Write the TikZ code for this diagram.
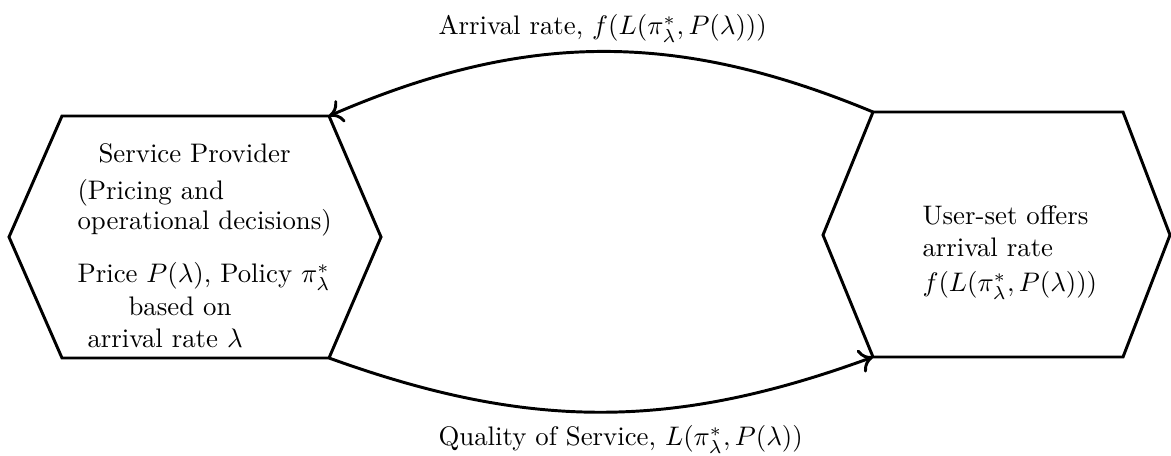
\documentclass[tikz,border=0pt]{standalone}
\usetikzlibrary{arrows.meta}
\begin{document}
\begin{tikzpicture}[x=0.373pt, y=-0.373pt,
  hexline/.style={line width=1.1pt, line join=miter},
  flow/.style={line width=1.1pt, -{Computer Modern Rightarrow[length=5pt,width=9pt]}},
  txt/.style={inner sep=0pt, anchor=base west}]
\useasboundingbox (0,0) rectangle (1171,456);

% service provider hexagon
\coordinate (L-w)  at (9,237);
\coordinate (L-nw) at (62,116);
\coordinate (L-ne) at (329,116);
\coordinate (L-e)  at (381,237);
\coordinate (L-se) at (329,358);
\coordinate (L-sw) at (62,358);
\draw[hexline] (L-w) -- (L-nw) -- (L-ne) -- (L-e) -- (L-se) -- (L-sw) -- cycle;

% user-set hexagon
\coordinate (R-w)  at (823,235);
\coordinate (R-nw) at (873,112);
\coordinate (R-ne) at (1123,112);
\coordinate (R-e)  at (1170,235);
\coordinate (R-se) at (1123,357);
\coordinate (R-sw) at (873,357);
\draw[hexline] (R-w) -- (R-nw) -- (R-ne) -- (R-e) -- (R-se) -- (R-sw) -- cycle;

% provider text
\node[txt] (sp)    at (98,163)  {Service Provider};
\node[txt] (pr1)   at (77,200)  {(Pricing and};
\node[txt] (pr2)   at (77,230)  {operational decisions)};
\node[txt] (pc)    at (77,283)  {Price $P(\lambda)$, Policy $\pi^*_\lambda$};
\node[txt] (bo)    at (128,316) {based on};
\node[txt] (ar)    at (87,348)  {arrival rate $\lambda$};

% user-set text
\node[txt] (us1)   at (922,225) {User-set offers};
\node[txt] (us2)   at (922,257) {arrival rate};
\node[txt] (us3)   at (922,292) {$f(L(\pi^*_\lambda,P(\lambda)))$};

% flows between the two parties
\draw[flow] (R-nw) to[bend right=23] (L-ne);
\draw[flow] (L-se) to[bend right=20] (R-sw);

\node[txt] (top)   at (438,35)  {Arrival rate, $f(L(\pi^*_\lambda,P(\lambda)))$};
\node[txt] (bot)   at (438,446) {Quality of Service, $L(\pi^*_\lambda,P(\lambda))$};
\end{tikzpicture}
\end{document}
